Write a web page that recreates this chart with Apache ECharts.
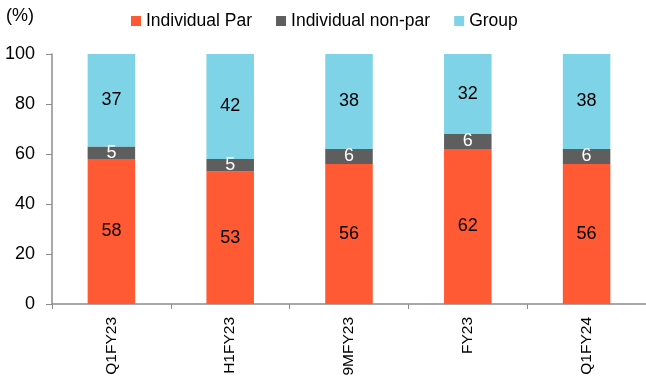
<!DOCTYPE html>
<html>
<head>
<meta charset="utf-8">
<script src="https://cdn.jsdelivr.net/npm/echarts@6/dist/echarts.min.js"></script>
<style>
  html, body { margin: 0; padding: 0; background: #fff; }
  #chart { width: 646px; height: 385px; }
</style>
</head>
<body>
<div id="chart"></div>
<script>
// periods and shares (%)
var categories = ['Q1FY23', 'H1FY23', '9MFY23', 'FY23', 'Q1FY24'];
var indivPar = [58, 53, 56, 62, 56];
var indivNonPar = [5, 5, 6, 6, 6];
var group = [37, 42, 38, 32, 38];
var yTicks = [0, 20, 40, 60, 80, 100];

var font = "'Liberation Sans', Arial, sans-serif";
var chart = echarts.init(document.getElementById('chart'));

function seg(name, data, color, labelColor) {
    return {
        name: name,
        type: 'bar',
        stack: 'total',
        data: data,
        barWidth: '40%',
        itemStyle: { color: color },
        label: {
            show: true,
            position: 'inside',
            color: labelColor,
            fontFamily: font,
            fontSize: 18
        }
    };
}

var option = {
    animation: false,
    grid: { left: 52, right: -2, top: 54, bottom: 81 },
    legend: {
        top: 7,
        left: 126,
        itemWidth: 10,
        itemHeight: 10,
        itemGap: 24,
        icon: 'rect',
        textStyle: { fontFamily: font, fontSize: 17.5, color: '#000' },
        data: ['Individual Par', 'Individual non-par', 'Group']
    },
    graphic: [{
        type: 'text',
        left: 6,
        top: 7,
        style: { text: '(%)', font: '18px ' + font, fill: '#000' }
    }],
    xAxis: {
        type: 'category',
        data: categories,
        axisLine: { lineStyle: { color: '#8c8c8c', width: 1.5 } },
        axisTick: { show: true, length: 5, lineStyle: { color: '#8c8c8c' } },
        axisLabel: {
            rotate: 90,
            margin: 13,
            color: '#000',
            fontFamily: font,
            fontSize: 15.5
        }
    },
    yAxis: {
        type: 'value',
        min: yTicks[0],
        max: yTicks[yTicks.length - 1],
        interval: 20,
        splitLine: { show: false },
        axisLine: { show: true, lineStyle: { color: '#8c8c8c', width: 1.5 } },
        axisTick: { show: true, length: 6, lineStyle: { color: '#8c8c8c' } },
        axisLabel: { color: '#000', fontFamily: font, fontSize: 18, margin: 17 }
    },
    series: [
        seg('Individual Par', indivPar, '#ff5a33', '#000'),
        seg('Individual non-par', indivNonPar, '#5e5e5e', '#fff'),
        seg('Group', group, '#7fd3e7', '#000')
    ]
};

chart.setOption(option);
</script>
</body>
</html>
